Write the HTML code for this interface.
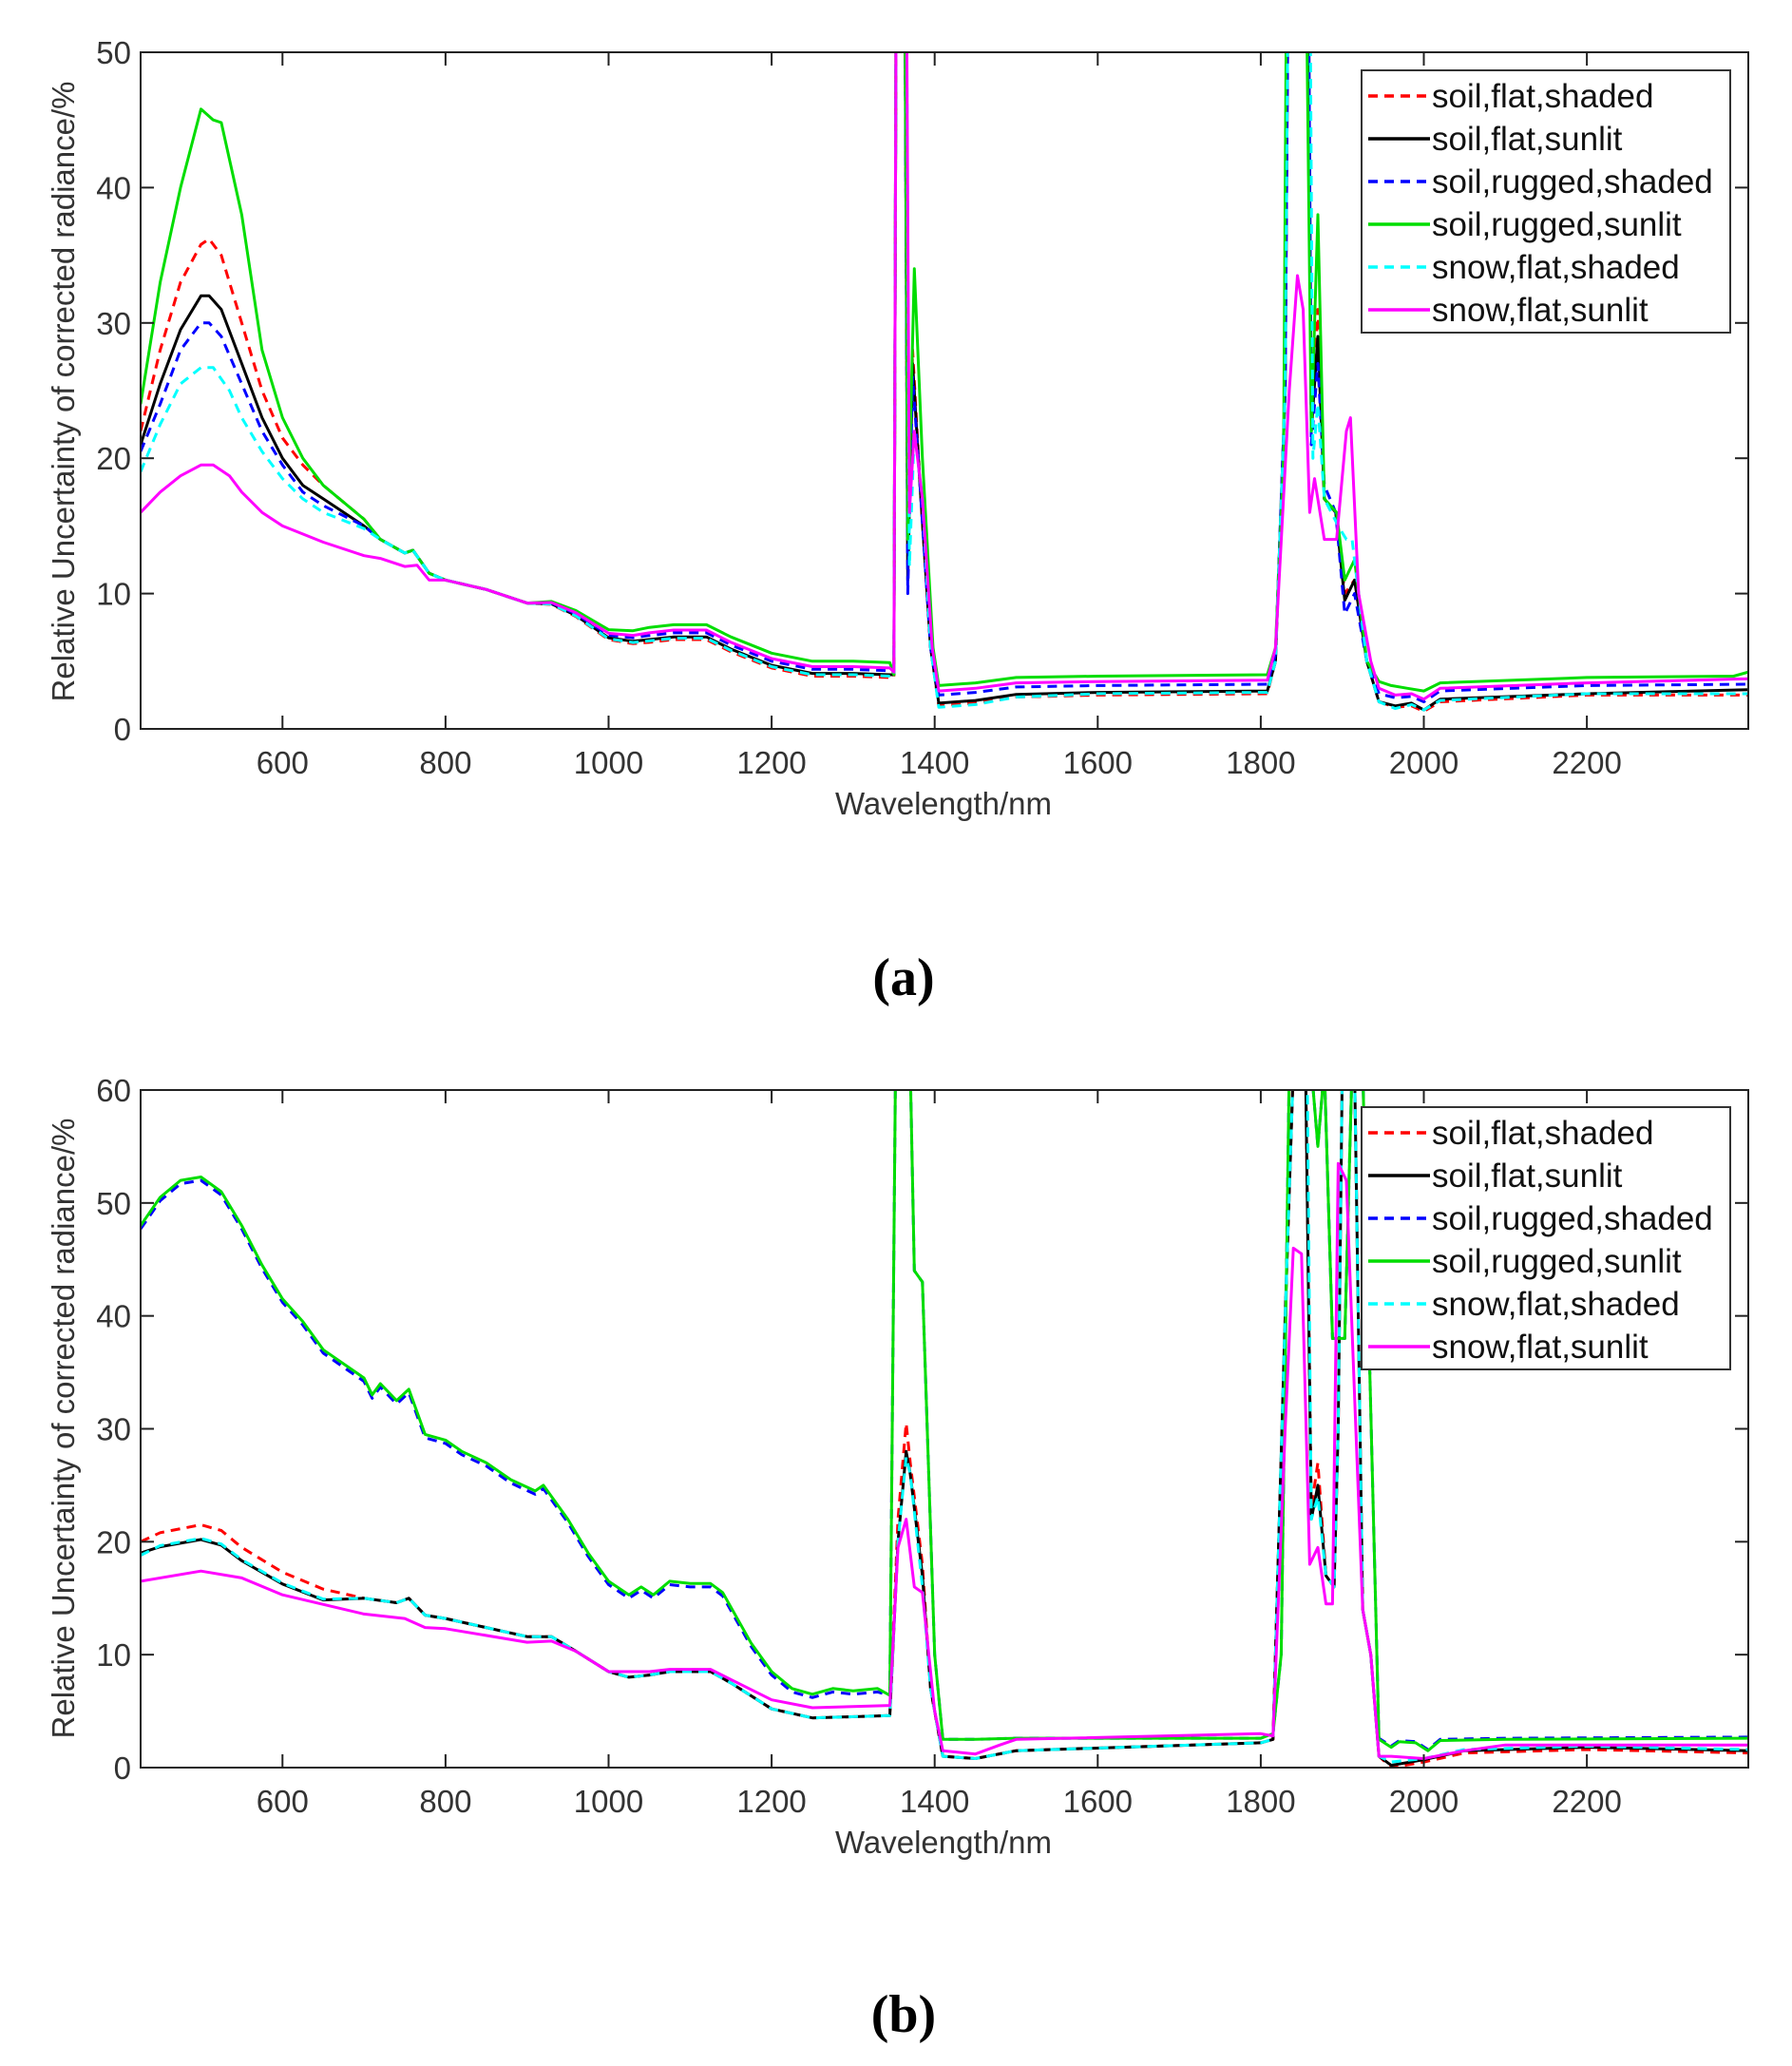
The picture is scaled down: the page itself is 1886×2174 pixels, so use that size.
<!DOCTYPE html>
<html><head><meta charset="utf-8"><style>
html,body{margin:0;padding:0;background:#fff;}
svg text{font-family:"Liberation Sans",sans-serif;}
</style></head><body>
<svg id="s" xmlns="http://www.w3.org/2000/svg" width="1886" height="2169" viewBox="0 0 1886 2169">
<defs>
<clipPath id="ca"><rect x="148" y="55" width="1692" height="712"/></clipPath>
<clipPath id="cb"><rect x="148" y="1147" width="1692" height="713"/></clipPath>
</defs>
<rect width="1886" height="2169" fill="#fff"/>
<g id="ga" clip-path="url(#ca)"></g>
<g id="gb" clip-path="url(#cb)"></g>
<g id="axes"></g>
<text x="951" y="1047" text-anchor="middle" style="font-family:'Liberation Serif',serif;font-weight:bold;font-size:56px">(a)</text>
<text x="951" y="2138" text-anchor="middle" style="font-family:'Liberation Serif',serif;font-weight:bold;font-size:56px">(b)</text>
</svg>
<script>
var NS="http://www.w3.org/2000/svg";
function el(t,a,p,txt){var e=document.createElementNS(NS,t);for(var k in a)e.setAttribute(k,a[k]);if(txt!==undefined)e.textContent=txt;p.appendChild(e);return e;}
var X0=148,X1=1840,W0=426,W1=2398;
function xp(w){return X0+(w-W0)/(W1-W0)*(X1-X0);}
var ax=document.getElementById('axes');
function axes(top,bot,ymax,step,lx,ly,leg){
  el('rect',{x:X0,y:top,width:X1-X0,height:bot-top,fill:'none',stroke:'#222','stroke-width':2},ax);
  for(var w=600;w<=2200;w+=200){var x=xp(w);
    el('line',{x1:x,y1:bot,x2:x,y2:bot-14,stroke:'#222','stroke-width':2},ax);
    el('line',{x1:x,y1:top,x2:x,y2:top+14,stroke:'#222','stroke-width':2},ax);
    el('text',{x:x,y:bot+47,'text-anchor':'middle','font-size':33,fill:'#333'},ax,w);}
  for(var v=0;v<=ymax;v+=step){var y=bot-v/ymax*(bot-top);
    el('line',{x1:X0,y1:y,x2:X0+14,y2:y,stroke:'#222','stroke-width':2},ax);
    el('line',{x1:X1,y1:y,x2:X1-14,y2:y,stroke:'#222','stroke-width':2},ax);
    el('text',{x:X0-10,y:y+12,'text-anchor':'end','font-size':33,fill:'#333'},ax,v);}
  el('text',{x:993,y:bot+90,'text-anchor':'middle','font-size':33,fill:'#333'},ax,'Wavelength/nm');
  el('text',{x:0,y:0,'text-anchor':'middle','font-size':33,fill:'#333',transform:'translate('+lx+','+ly+') rotate(-90)'},ax,'Relative Uncertainty of corrected radiance/%');
  el('rect',{x:1433,y:leg,width:388,height:276,fill:'#fff',stroke:'#333','stroke-width':2},ax);
  var names=['soil,flat,shaded','soil,flat,sunlit','soil,rugged,shaded','soil,rugged,sunlit','snow,flat,shaded','snow,flat,sunlit'];
  var cols=['#f00','#000','#00f','#0d0','#0ff','#f0f'];
  for(var i=0;i<6;i++){var y=leg+27+i*45;
    var a={x1:1440,y1:y,x2:1505,y2:y,stroke:cols[i],'stroke-width':3.5};
    if(i%2==0)a['stroke-dasharray']='10,7';
    el('line',a,ax);
    el('text',{x:1507,y:y+12,'font-size':35,fill:'#111'},ax,names[i]);}
}
axes(55,767,50,10,78,412,74);
axes(1147,1860,60,10,78,1503,1165);

function draw(g,data,top,bot,ymax,col,dash){
  var pts=data.map(function(p){return xp(p[0]).toFixed(1)+','+(bot-p[1]/ymax*(bot-top)).toFixed(1);}).join(' ');
  var a={points:pts,fill:'none',stroke:col,'stroke-width':3,'stroke-linejoin':'round'};
  if(dash)a['stroke-dasharray']='10,7';
  el('polyline',a,g);
}
var mid=[[700,15.2],[720,14],[750,13],[760,13.2],[780,11.5],[800,11],[850,10.3],[900,9.3],[930,9.2],[960,8.3],[1000,6.6],[1030,6.3],[1050,6.4],[1080,6.6],[1120,6.6],[1150,5.7],[1200,4.5],[1250,3.9],[1300,3.9],[1345,3.8]];
function mk(head,d,band1,L1,L2,band2,tail){
  var r=head.slice();
  mid.forEach(function(p){if(p[0]>head[head.length-1][0]){var f=Math.max(0,Math.min(1,(p[0]-900)/150));r.push([p[0],p[1]+d*f]);}});
  r=r.concat(band1);
  r.push([1405,L1]);r.push([1450,L1+0.2]);r.push([1500,(L1+L2)/2+0.2]);r.push([1600,L2-0.1]);r.push([1808,L2]);
  r=r.concat(band2);
  return r.concat(tail);
}
var A={};
A.red=mk([[426,22],[450,28],[475,33],[500,35.8],[510,36.2],[525,35],[550,30],[575,25],[600,21.5],[625,19.5],[650,18],[700,15.5]],0,
 [[1350,3.8],[1353,60],[1363,60],[1367,12],[1373,28],[1382,18],[1395,6]],1.7,2.6,
 [[1818,5],[1830,25],[1834,60],[1858,60],[1862,22],[1870,31],[1878,17],[1892,16],[1903,10],[1915,11],[1930,5]],
 [[1945,2],[1965,1.6],[1985,1.7],[2000,1.3],[2020,2],[2200,2.5],[2398,2.5]]);
A.black=mk([[426,21],[450,25.5],[475,29.5],[500,32],[510,32],[525,31],[550,27],[575,23],[600,20],[625,18],[650,17],[700,15]],0.2,
 [[1350,4],[1353,60],[1363,60],[1367,11],[1373,27],[1382,18],[1395,6]],1.9,2.8,
 [[1818,5],[1830,25],[1834,60],[1858,60],[1862,22],[1870,29],[1878,17],[1892,16],[1903,9.5],[1915,11],[1930,5]],
 [[1945,2],[1965,1.7],[1985,1.9],[2000,1.4],[2020,2.2],[2200,2.6],[2398,2.9]]);
A.blue=mk([[426,20.5],[450,24],[475,28],[500,30],[510,30],[525,29],[550,25.5],[575,22],[600,19.5],[625,17.5],[650,16.5],[700,15]],0.5,
 [[1350,4.4],[1353,60],[1363,60],[1367,10],[1373,26],[1382,18],[1395,6]],2.5,3.3,
 [[1818,5.5],[1830,25],[1834,60],[1858,60],[1862,21],[1870,27],[1878,18],[1892,16],[1903,8.5],[1915,10],[1930,5]],
 [[1945,2.6],[1965,2.3],[1985,2.4],[2000,2],[2020,2.8],[2200,3.2],[2398,3.3]]);
A.green=mk([[426,24],[450,33],[475,40],[500,45.8],[515,45],[525,44.8],[550,38],[575,28],[600,23],[625,20],[650,18],[700,15.5]],1.1,
 [[1350,4],[1353,60],[1363,60],[1367,14],[1375,34],[1385,20],[1398,6]],3.2,4,
 [[1818,6],[1828,20],[1832,60],[1855,60],[1862,22],[1870,38],[1878,17],[1893,16],[1903,11],[1915,12.5],[1930,5]],
 [[1945,3.5],[1960,3.2],[1980,3],[2000,2.8],[2020,3.4],[2200,3.8],[2380,3.9],[2398,4.2]]);
A.cyan=mk([[426,19],[450,22.5],[475,25.5],[500,26.7],[515,26.7],[535,25],[550,23],[575,20.5],[600,18.5],[625,17],[650,16],[700,14.8]],0.1,
 [[1350,3.9],[1353,60],[1365,60],[1369,12],[1375,22],[1385,17],[1395,6]],1.6,2.7,
 [[1818,5],[1830,25],[1834,60],[1860,60],[1864,20],[1870,24],[1878,17],[1895,15],[1905,14],[1912,14],[1930,5]],
 [[1945,2],[1965,1.5],[1985,1.8],[2000,1.4],[2020,2.1],[2200,2.6],[2398,2.6]]);
A.mag=mk([[426,16],[450,17.5],[475,18.7],[500,19.5],[515,19.5],[535,18.7],[550,17.5],[575,16],[600,15],[650,13.8],[700,12.8],[720,12.6],[750,12],[765,12.1],[780,11]],0.7,
 [[1350,4.2],[1353,60],[1365,60],[1369,16],[1375,22],[1385,17],[1397,6]],2.8,3.6,
 [[1818,6],[1835,25],[1845,33.5],[1852,31],[1860,16],[1866,18.5],[1878,14],[1893,14],[1905,22],[1910,23],[1920,10],[1935,5]],
 [[1945,3],[1965,2.5],[1985,2.6],[2000,2.2],[2020,3],[2200,3.4],[2398,3.7]]);
var ga=document.getElementById('ga');
draw(ga,A.red,55,767,50,'#f00',1);
draw(ga,A.black,55,767,50,'#000',0);
draw(ga,A.blue,55,767,50,'#00f',1);
draw(ga,A.green,55,767,50,'#0d0',0);
draw(ga,A.cyan,55,767,50,'#0ff',1);
draw(ga,A.mag,55,767,50,'#f0f',0);
var hi=[[426,48],[450,50.5],[475,52],[500,52.3],[525,51],[550,48],[575,44.5],[600,41.5],[625,39.5],[650,37],[700,34.5],[710,33],[720,34],[740,32.5],[755,33.5],[775,29.5],[800,29],[820,28],[850,27],[880,25.5],[910,24.5],[920,25],[950,22],[975,19],[1000,16.5],[1025,15.3],[1040,16],[1055,15.3],[1075,16.5],[1100,16.3],[1125,16.3],[1140,15.5],[1175,11],[1200,8.5],[1225,7],[1250,6.5],[1275,7],[1300,6.8],[1330,7],[1345,6.4],[1352,62],[1370,62],[1375,44],[1385,43],[1400,10],[1410,2.5],[1450,2.5],[1500,2.6],[1800,2.6],[1815,3],[1825,10],[1835,62],[1862,62],[1870,55],[1878,62],[1888,38],[1903,38],[1912,62],[1925,62],[1932,40],[1945,2.5],[1960,1.8],[1970,2.3],[1990,2.2],[2005,1.5],[2020,2.4],[2100,2.5],[2398,2.6]];
var blueB=hi.map(function(p){return [p[0],p[0]<1345?p[1]-0.3:(p[0]>1940?p[1]+0.1:p[1])];});
function low(peak,st,b1,b2,tl){
  var s=peak/21.5;
  var r=[[426,st],[450,20.5*s+0.3],[500,peak],[525,peak-0.5],[550,19.5*s],[600,17.3*s],[650,15.8*s],[700,15],[740,14.6],[755,15],[775,13.5],[800,13.2],[900,11.6],[930,11.6],[960,10.3],[1000,8.5],[1025,8],[1050,8.2],[1075,8.5],[1125,8.5],[1150,7.5],[1200,5.2],[1250,4.4],[1345,4.6]];
  return r.concat(b1,[[1410,1],[1450,0.8],[1500,1.5],[1800,2.2],[1815,2.5]],b2,tl);
}
var B={};
B.red=low(21.5,20,[[1355,22],[1365,30.5],[1370,27],[1385,18],[1395,7]],[[1830,40],[1840,62],[1855,62],[1862,23],[1870,27],[1880,17],[1890,16],[1895,30],[1900,62],[1915,62],[1925,14],[1935,10],[1945,1]],[[1960,0],[2000,0.5],[2050,1.3],[2200,1.6],[2398,1.3]]);
B.black=low(20.2,19,[[1355,20],[1365,28],[1370,26],[1385,17],[1395,7]],[[1830,40],[1840,62],[1855,62],[1862,22],[1870,25],[1880,17],[1890,16],[1895,30],[1900,62],[1915,62],[1925,14],[1935,10],[1945,1]],[[1960,0.2],[2000,0.7],[2050,1.5],[2200,1.8],[2398,1.5]]);
B.cyan=low(20.3,18.8,[[1355,20],[1365,27.5],[1370,26],[1385,16],[1395,7]],[[1830,40],[1840,62],[1857,62],[1862,22],[1870,24],[1880,17],[1890,16],[1895,30],[1900,62],[1915,62],[1925,14],[1935,10],[1945,1]],[[1960,0.5],[2000,0.8],[2050,1.6],[2200,1.9],[2398,1.6]]);
B.mag=[[426,16.5],[500,17.4],[550,16.8],[600,15.3],[700,13.6],[750,13.2],[775,12.4],[800,12.3],[900,11.1],[930,11.2],[960,10.3],[1000,8.5],[1050,8.5],[1075,8.7],[1125,8.7],[1150,7.8],[1200,6],[1250,5.3],[1345,5.5],[1355,19.5],[1365,22],[1375,16],[1385,15.5],[1400,5],[1410,1.5],[1450,1.2],[1480,2],[1500,2.5],[1800,3],[1815,2.8],[1830,30],[1840,46],[1850,45.5],[1860,18],[1870,19.5],[1880,14.5],[1888,14.5],[1895,53.5],[1905,52],[1925,14],[1935,10],[1945,1],[1960,1],[2000,0.8],[2050,1.5],[2100,2],[2398,2]];
var gb=document.getElementById('gb');
draw(gb,B.red,1147,1860,60,'#f00',1);
draw(gb,B.black,1147,1860,60,'#000',0);
draw(gb,blueB,1147,1860,60,'#00f',1);
draw(gb,hi,1147,1860,60,'#0d0',0);
draw(gb,B.cyan,1147,1860,60,'#0ff',1);
draw(gb,B.mag,1147,1860,60,'#f0f',0);
</script>
</body></html>
